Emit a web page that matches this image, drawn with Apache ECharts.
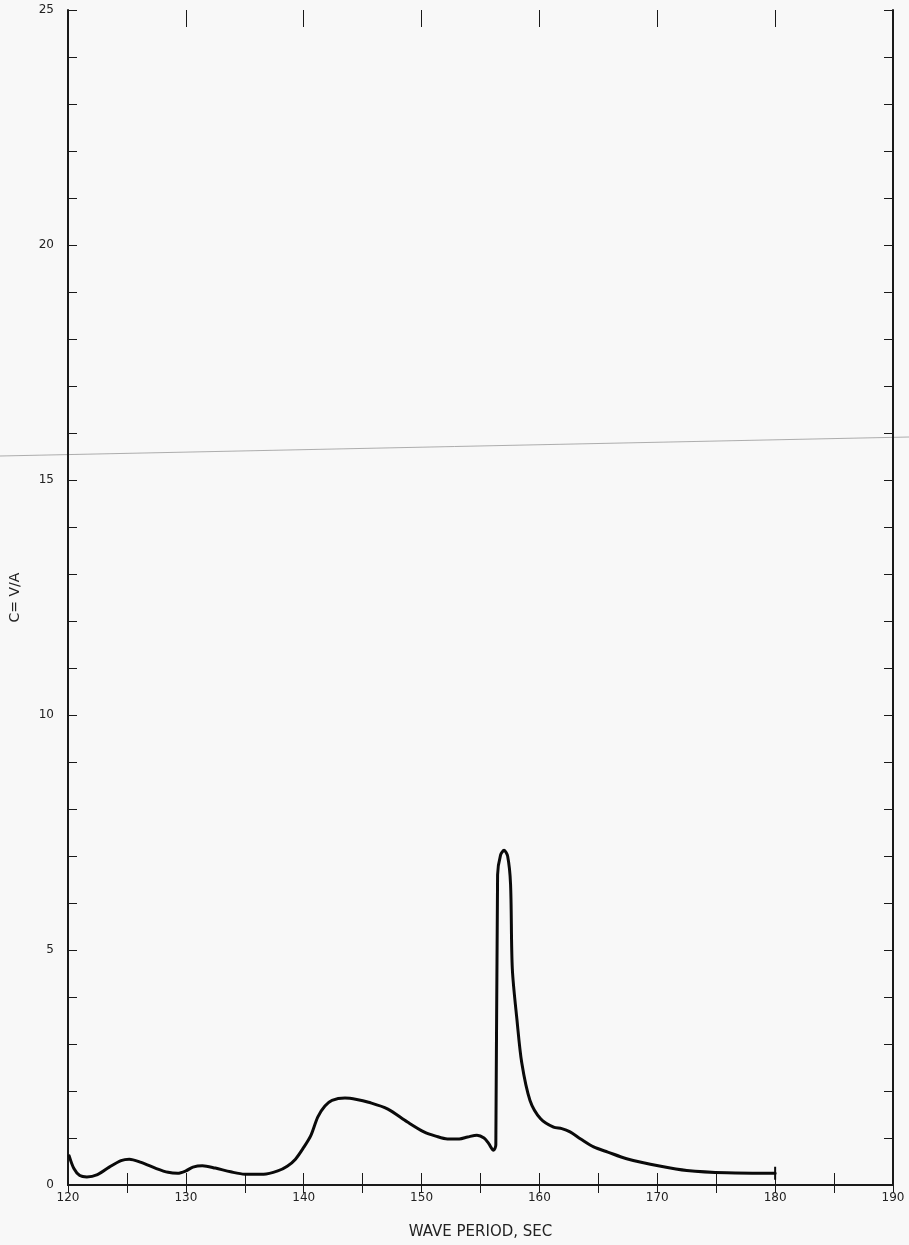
<!DOCTYPE html>
<html>
<head>
<meta charset="utf-8">
<script src="https://cdn.jsdelivr.net/npm/echarts@6/dist/echarts.min.js"></script>
<style>
html,body{margin:0;padding:0;background:#f8f8f8;}
#c{width:909px;height:1245px;}
</style>
</head>
<body>
<div id="c"></div>
<script>
// Data
var period = [120.1,120.5,121.0,121.6,122.5,123.5,124.5,125.2,126.2,127.5,128.5,129.3,130.0,130.6,131.4,132.5,133.8,135.0,136.6,137.8,138.6,139.3,140.0,140.6,141.2,141.8,142.4,143.5,144.5,145.5,147.1,148.8,150.2,151.2,152.2,153.2,153.9,154.7,155.3,155.7,156.1,156.3,156.45,156.7,157.0,157.3,157.55,157.7,158.1,158.5,159.2,160.1,161.2,161.9,162.6,163.5,164.6,165.8,167.4,170.3,172.5,175.9,180.0];
var cValue = [0.62,0.35,0.20,0.17,0.22,0.38,0.52,0.55,0.48,0.35,0.27,0.25,0.30,0.38,0.41,0.36,0.28,0.23,0.23,0.30,0.40,0.55,0.80,1.05,1.45,1.68,1.80,1.85,1.82,1.76,1.62,1.34,1.13,1.04,0.98,0.98,1.02,1.06,1.00,0.88,0.74,0.85,6.6,7.02,7.12,7.0,6.4,4.6,3.5,2.6,1.8,1.41,1.23,1.20,1.13,0.98,0.81,0.70,0.56,0.40,0.31,0.26,0.25];
var xTickLabels = ['120','130','140','150','160','170','180','190'];
var yTickLabels = ['0','5','10','15','20','25'];
var xName = 'WAVE PERIOD, SEC';
var yName = 'C= V/A';

var points = period.map(function(p,i){return [p,cValue[i]];});
var ink = '#1a1a1a';
var fontFam = 'DejaVu Sans';

var chart = echarts.init(document.getElementById('c'), null, {renderer:'canvas'});
chart.setOption({
  backgroundColor:'#f8f8f8',
  animation:false,
  grid:{left:67,right:16,top:10,bottom:57,containLabel:false},
  xAxis:[{
    type:'value',min:120,max:190,interval:5,position:'bottom',
    axisLine:{lineStyle:{color:ink,width:2}},
    axisTick:{inside:true,length:12,lineStyle:{color:ink,width:1}},
    axisLabel:{margin:7,color:'#222',fontFamily:fontFam,fontSize:12,
      formatter:function(v){var s=String(v);return xTickLabels.indexOf(s)>=0?s:'';}},
    splitLine:{show:false},
    name:xName,nameLocation:'middle',nameGap:40,
    nameTextStyle:{color:'#222',fontFamily:fontFam,fontSize:15}
  },{
    type:'value',min:120,max:190,interval:5,position:'top',
    axisLine:{lineStyle:{color:ink,width:2}},
    axisTick:{inside:true,length:8,lineStyle:{color:ink,width:1}},
    axisLabel:{show:false},splitLine:{show:false}
  },{
    type:'value',min:120,max:190,interval:10,position:'top',
    axisLine:{show:false},
    axisTick:{inside:true,length:17,lineStyle:{color:ink,width:1}},
    axisLabel:{show:false},splitLine:{show:false}
  }],
  yAxis:[{
    type:'value',min:0,max:25,interval:1,position:'left',
    axisLine:{show:true,lineStyle:{color:ink,width:2}},
    axisTick:{show:true,inside:true,length:9,lineStyle:{color:ink,width:1}},
    axisLabel:{margin:14,color:'#222',fontFamily:fontFam,fontSize:12,
      formatter:function(v){var s=String(v);return yTickLabels.indexOf(s)>=0?s:'';}},
    splitLine:{show:false},
    name:yName,nameLocation:'middle',nameGap:46,nameRotate:90,
    nameTextStyle:{color:'#222',fontFamily:fontFam,fontSize:14}
  },{
    type:'value',min:0,max:25,interval:1,position:'right',
    axisLine:{show:true,lineStyle:{color:ink,width:2}},
    axisTick:{show:true,inside:true,length:9,lineStyle:{color:ink,width:1}},
    axisLabel:{show:false},splitLine:{show:false}
  }],
  graphic:[{
    type:'line',silent:true,z:0,
    shape:{x1:0,y1:456,x2:909,y2:437},
    style:{stroke:'#9a9a9a',lineWidth:1,opacity:0.8}
  }],
  series:[{
    type:'line',xAxisIndex:0,yAxisIndex:0,data:points,
    smooth:0.3,showSymbol:false,
    lineStyle:{color:'#0a0a0a',width:3,join:'round',cap:'round'},
    markPoint:{silent:true,symbol:'rect',symbolSize:[2,13],
      itemStyle:{color:'#0a0a0a'},label:{show:false},
      data:[{coord:[period[period.length-1],cValue[cValue.length-1]]}]}
  }]
});
</script>
</body>
</html>
